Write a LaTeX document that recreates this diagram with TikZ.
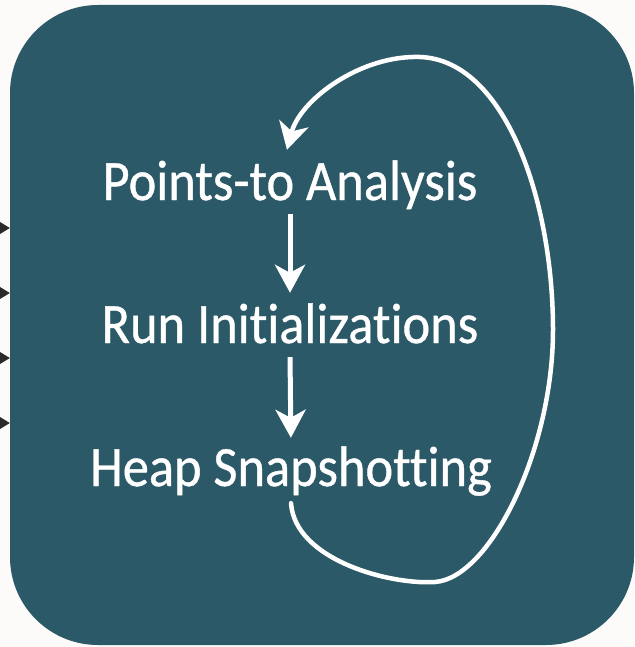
\documentclass[tikz,border=0pt]{standalone}
\usepackage{fontspec}
\setmainfont{Carlito}[FakeStretch=0.92, FakeBold=0.7, RawFeature={-liga}]
\usetikzlibrary{arrows.meta}
\pgfdeclarelayer{bg}
\pgfsetlayers{bg,main}
\definecolor{boxteal}{HTML}{2C5967}
\definecolor{paper}{HTML}{FCFBFA}
\definecolor{feedgray}{HTML}{2B2A28}
\tikzset{
    stage/.style={text=white, font=\fontsize{57}{60}\selectfont, inner sep=0pt,
        text height=38pt, text depth=11pt, anchor=base},
    panel/.style={fill=boxteal, rounded corners=88pt, inner sep=0pt,
        minimum width=624pt, minimum height=640pt},
    flow/.style={draw=white, line width=5pt, -{Stealth[length=28pt,width=30pt,inset=8pt]}},
    back/.style={draw=white, line width=4.5pt, line cap=round, -{Stealth[length=27pt,width=30pt,inset=8pt]}},
    feed/.style={draw=feedgray, line width=1pt, -{Triangle[length=10pt,width=12pt]}}
}

\begin{document}
\begin{tikzpicture}[x=1pt, y=-1pt]
        \useasboundingbox (0,0) rectangle (634,647);
        \begin{pgfonlayer}{bg}
                \fill[paper] (0,0) rectangle (634,647);
                \node (box) [panel] at (322,325) {};
        \end{pgfonlayer}
        \node (pta) [stage] at (290,200) {Points-to Analysis};
        \node (run) [stage] at (290,343) {Run Initializations};
        \node (heap) [stage] at (291,486) {Heap Snapshotting};
        \coordinate (f1) at (-20,228);
        \coordinate (f2) at (-20,293);
        \coordinate (f3) at (-20,358);
        \coordinate (f4) at (-20,423);
        \draw[feed] (f1) -- (f1 -| box.west);
        \draw[feed] (f2) -- (f2 -| box.west);
        \draw[feed] (f3) -- (f3 -| box.west);
        \draw[feed] (f4) -- (f4 -| box.west);
        \draw[flow, shorten <=3pt, shorten >=12pt] (pta.south) -- (run.north);
        \draw[flow, shorten <=3pt, shorten >=10pt] (run.south) -- (heap.north);
        % loop back from the snapshot to the analysis
        \draw[back] ([yshift=-6pt]heap.south)
                .. controls (295,560) and (390,585) .. (435,582)
                .. controls (490,578) and (553,450) .. (553,330)
                .. controls (553,200) and (505,60) .. (420,57)
                .. controls (360,55) and (300,100) .. ([xshift=-3pt,yshift=12pt]pta.north);
\end{tikzpicture}
\end{document}
